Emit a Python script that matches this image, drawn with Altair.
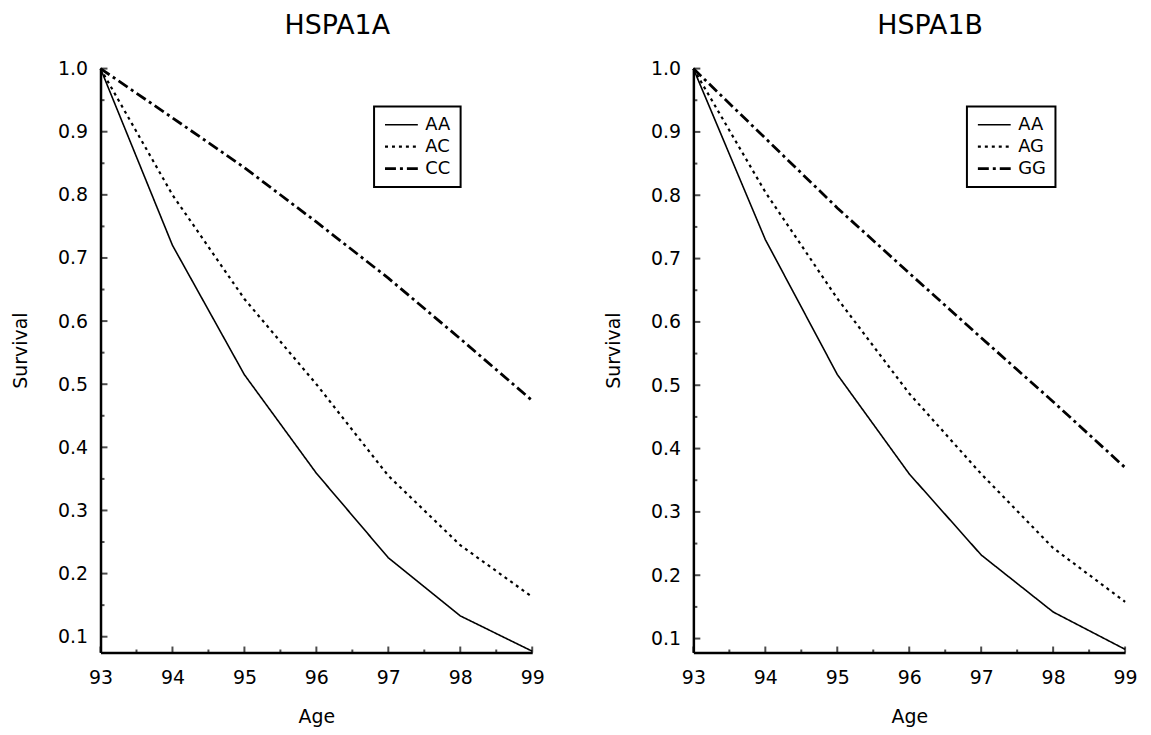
import altair as alt
import pandas as pd

# ---- data ----
ages = [93, 94, 95, 96, 97, 98, 99]

a_names = ["AA", "AC", "CC"]
a_AA = [1.0, 0.72, 0.515, 0.359, 0.225, 0.133, 0.077]
a_AC = [1.0, 0.80, 0.635, 0.50, 0.355, 0.245, 0.163]
a_CC = [1.0, 0.922, 0.843, 0.757, 0.668, 0.572, 0.474]

b_names = ["AA", "AG", "GG"]
b_AA = [1.0, 0.73, 0.517, 0.36, 0.232, 0.142, 0.083]
b_AG = [1.0, 0.805, 0.637, 0.487, 0.36, 0.243, 0.158]
b_GG = [1.0, 0.89, 0.78, 0.677, 0.575, 0.474, 0.37]

y_major = [0.1, 0.2, 0.3, 0.4, 0.5, 0.6, 0.7, 0.8, 0.9, 1.0]
y_minor = [0.15, 0.25, 0.35, 0.45, 0.55, 0.65, 0.75, 0.85, 0.95]
x_major = [93, 94, 95, 96, 97, 98, 99]
x_minor = [93.5, 94.5, 95.5, 96.5, 97.5, 98.5]

F = "DejaVu Sans"
DASHES = [[1, 0], [3, 4], [11, 4, 3, 4]]
WIDTHS = [1.6, 2.8, 2.6]


def panel(title, names, series, ymin):
    rows = []
    for n, vals in zip(names, series):
        for a, v in zip(ages, vals):
            rows.append({"age": a, "s": v, "g": n})
    df = pd.DataFrame(rows)

    xs = alt.Scale(domain=[93, 99], nice=False, zero=False)
    ys = alt.Scale(domain=[ymin, 1.0], nice=False, zero=False)

    x_axis = alt.Axis(values=x_major, format="d", title="Age", ticks=False, tickSize=0,
                      labelPadding=16, titlePadding=20, domainWidth=2.5, domainColor="black",
                      grid=False, labelFont=F, labelFontSize=19, titleFont=F, titleFontSize=19,
                      titleFontWeight="normal", labelColor="black", titleColor="black",
                      labelFlush=False, labelOverlap=False)
    y_axis = alt.Axis(values=y_major, format=".1f", title="Survival", ticks=False, tickSize=0,
                      labelPadding=13, titlePadding=27, domainWidth=2.5, domainColor="black",
                      grid=False, labelFont=F, labelFontSize=19, titleFont=F, titleFontSize=19,
                      titleFontWeight="normal", labelColor="black", titleColor="black",
                      labelFlush=False, labelOverlap=False, titleY=283)

    lines = alt.Chart(df).mark_line(color="black").encode(
        x=alt.X("age:Q", scale=xs, axis=x_axis),
        y=alt.Y("s:Q", scale=ys, axis=y_axis),
        strokeDash=alt.StrokeDash("g:N", sort=names,
                                  scale=alt.Scale(domain=names, range=DASHES),
                                  legend=alt.Legend(title=None, orient="none", legendX=275, legendY=38)),
        strokeWidth=alt.StrokeWidth("g:N", sort=names,
                                    scale=alt.Scale(domain=names, range=WIDTHS), legend=None),
    )

    ytick_major = alt.Chart(pd.DataFrame({"s": y_major})).mark_tick(
        orient="horizontal", size=7, thickness=2, xOffset=3.5, color="black"
    ).encode(x=alt.datum(93), y=alt.Y("s:Q", axis=y_axis))
    ytick_minor = alt.Chart(pd.DataFrame({"s": y_minor})).mark_tick(
        orient="horizontal", size=4, thickness=2, xOffset=2, color="black"
    ).encode(x=alt.datum(93), y=alt.Y("s:Q", axis=y_axis))
    xtick_major = alt.Chart(pd.DataFrame({"age": x_major})).mark_tick(
        orient="vertical", size=6, thickness=2, yOffset=-3, color="black"
    ).encode(x=alt.X("age:Q", axis=x_axis), y=alt.datum(ymin))
    xtick_minor = alt.Chart(pd.DataFrame({"age": x_minor})).mark_tick(
        orient="vertical", size=3, thickness=2, yOffset=-1.5, color="black"
    ).encode(x=alt.X("age:Q", axis=x_axis), y=alt.datum(ymin))

    return alt.layer(lines, ytick_major, ytick_minor, xtick_major, xtick_minor).properties(
        width=434, height=587,
        title=alt.TitleParams(title, font=F, fontSize=27, fontWeight="normal", anchor="middle",
                              frame="group", dx=21, offset=20, color="black"),
    )


left = panel("HSPA1A", a_names, [a_AA, a_AC, a_CC], 0.075)
right = panel("HSPA1B", b_names, [b_AA, b_AG, b_GG], 0.078)

chart = alt.hconcat(left, right, spacing=59).resolve_scale(
    strokeDash="independent", strokeWidth="independent"
).properties(
    background="white",
    padding={"left": 3, "top": 2, "right": 5, "bottom": 0},
).configure_view(
    stroke=None
).configure_legend(
    strokeColor="black", strokeWidth=2, padding=9.5, rowPadding=4, clipHeight=18,
    symbolType="stroke", symbolSize=1089, symbolStrokeWidth=2, symbolStrokeColor="black",
    labelFont=F, labelFontSize=18, labelOffset=6, labelColor="black", fillColor="white"
)

chart.save("out.html", embed_options={"renderer": "svg", "actions": False})
